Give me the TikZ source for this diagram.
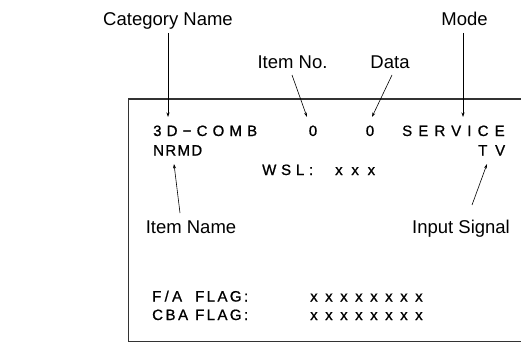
\documentclass[tikz,border=0pt]{standalone}
\usepackage{fontspec}
\setmainfont{Liberation Sans}
\newfontfamily\scrfont{Liberation Sans}[FakeBold=0.9]
\usetikzlibrary{arrows.meta}
\begin{document}
\begin{tikzpicture}[x=1pt,y=-1pt,
  lbl/.style={font=\fontsize{18.5}{20}\selectfont, inner sep=0pt, anchor=base},
  scr/.style={font=\scrfont\fontsize{15}{17}\selectfont, inner sep=0pt, anchor=base west},
  scrc/.style={font=\scrfont\fontsize{15}{17}\selectfont, inner sep=0pt, anchor=base},
  sp/.style={font=\scrfont\fontsize{15}{17}\selectfont\addfontfeature{LetterSpace=#1}},
  pin/.style={line width=0.6pt, -{Stealth[length=4.5pt,width=3pt]}},
  frame/.style={line width=1.2pt, draw=black!80}
]
\useasboundingbox (0,0) rectangle (521,342);
\draw[frame] (521,99) -- (128.5,99) -- (128.5,341.4) -- (521,341.4);

% labels
\node[lbl] (cat) at (168,25.5) {Category Name};
\node[lbl] (mode) at (464.5,25.5) {Mode};
\node[lbl] (itemno) at (292.5,68.5) {Item No.};
\node[lbl] (data) at (390,68.5) {Data};
\node[lbl] (itemname) at (191,233) {Item Name};
\node[lbl] (insig) at (461,233) {Input Signal};

% screen text
\node[scr, sp=34.5] (cat3d) at (153,136) {3D−COMB};
\node[scrc] (ino) at (313,136) {0};
\node[scrc] (dat) at (370,136) {0};
\node[scr, sp=41] (svc) at (402,136) {SERVICE};
\node[scr, sp=9] (nrmd) at (153,155.5) {NRMD};
\node[scr, sp=52] (tv) at (478,155.5) {TV};
\node[scr, sp=32] (wsl) at (262,175) {WSL:};
\node[scr, sp=58] (wslx) at (335,175) {xxx};
\node[scr, sp=22] (fa) at (152,301.5) {F/A};
\node[scr, sp=16] (flag1) at (195,301.5) {FLAG:};
\node[scr, sp=50] (fx) at (310,301.5) {xxxxxxxx};
\node[scr, sp=17] (cba) at (152,320) {CBA};
\node[scr, sp=16] (flag2) at (195,320) {FLAG:};
\node[scr, sp=50] (cx) at (310,320) {xxxxxxxx};

% arrow ends
\coordinate (catS) at (168,33);   \coordinate (catE) at (168,117);
\coordinate (modeS) at (463,33);  \coordinate (modeE) at (463,117);
\coordinate (inoS) at (292,75);   \coordinate (inoE) at (307,117);
\coordinate (datS) at (392,75);   \coordinate (datE) at (372,117);
\coordinate (nmS) at (180,213);   \coordinate (nmE) at (174,164);
\coordinate (sigS) at (472,205);  \coordinate (sigE) at (487,164);

\draw[pin] (catS) -- (catE);
\draw[pin] (modeS) -- (modeE);
\draw[pin] (inoS) -- (inoE);
\draw[pin] (datS) -- (datE);
\draw[pin] (nmS) -- (nmE);
\draw[pin] (sigS) -- (sigE);
\end{tikzpicture}
\end{document}
